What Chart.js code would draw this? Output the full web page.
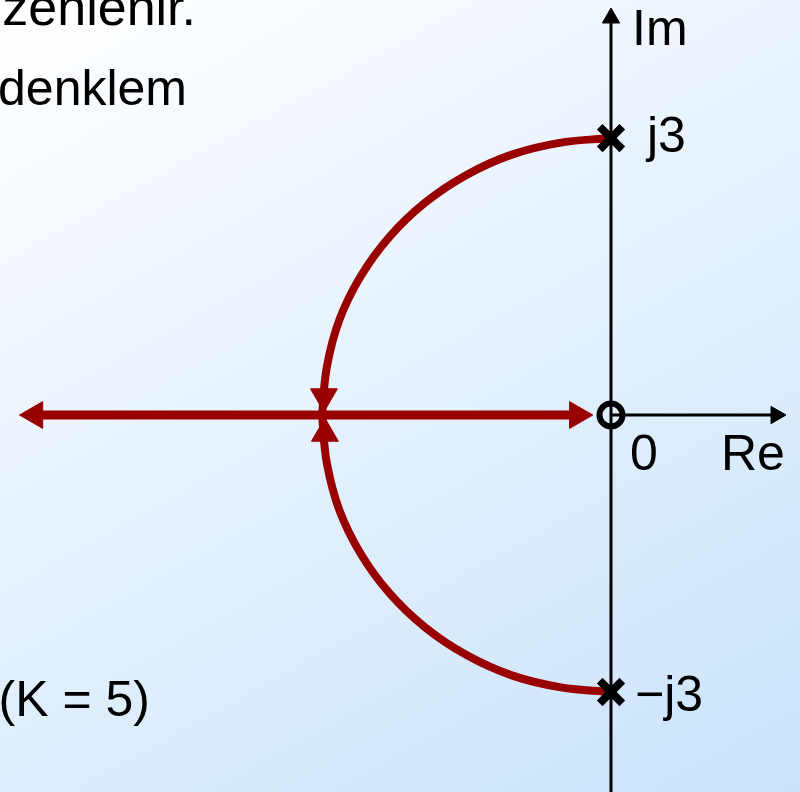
<!DOCTYPE html>
<html><head><meta charset="utf-8">
<script src="https://cdn.jsdelivr.net/npm/chart.js@4/dist/chart.umd.min.js"></script>
<style>
html,body{margin:0;padding:0;overflow:hidden;}
body{width:800px;height:792px;background:linear-gradient(151deg,#ffffff 0%,#cae3fb 100%);}
canvas{display:block;}
</style></head><body>
<canvas id="c" width="800" height="792"></canvas>
<script>
// Root locus: poles at ±j3, zero at 0, breakaway at -3
const poles = [{x: 0, y: 3}, {x: 0, y: -3}];
const zeros = [{x: 0, y: 0}];
const upperArc = [{x: 0, y: 3}, {x: -0.52, y: 2.95}, {x: -1.03, y: 2.82}, {x: -1.5, y: 2.6}, {x: -1.93, y: 2.3},
  {x: -2.3, y: 1.93}, {x: -2.6, y: 1.5}, {x: -2.82, y: 1.03}, {x: -2.95, y: 0.52}, {x: -3, y: 0}];
const lowerArc = [{x: 0, y: -3}, {x: -0.52, y: -2.95}, {x: -1.03, y: -2.82}, {x: -1.5, y: -2.6}, {x: -1.93, y: -2.3},
  {x: -2.3, y: -1.93}, {x: -2.6, y: -1.5}, {x: -2.82, y: -1.03}, {x: -2.95, y: -0.52}, {x: -3, y: 0}];
const realAxisLocus = [{x: -6.03, y: 0}, {x: -0.32, y: 0}];
const locusArrows = [{x: -5.98, y: 0}, {x: -0.35, y: 0}, {x: -2.98, y: 0.2}, {x: -2.97, y: -0.2}];
const locusArrowDir = [270, 90, 180, 0];
const imAxis = [{x: 0, y: -4.2}, {x: 0, y: 4.25}];
const reAxis = [{x: 0, y: 0}, {x: 1.68, y: 0}];
const axisArrows = [{x: 0, y: 4.3}, {x: 1.713, y: 0}];
const axisArrowDir = [0, 90];
const xRange = [-6.343, 1.962];
const yRange = [-4.083, 4.495];

const RED = '#990000';
const FONT = '"Liberation Sans", Arial, sans-serif';

const labelPlugin = {
  id: 'labels',
  afterDatasetsDraw(chart) {
    const ctx = chart.ctx;
    const xs = chart.scales.x, ys = chart.scales.y;
    const x0 = xs.getPixelForValue(0), y0 = ys.getPixelForValue(0);
    const yp3 = ys.getPixelForValue(3), yn3 = ys.getPixelForValue(-3);
    ctx.save();
    ctx.fillStyle = '#000';
    ctx.font = '50px ' + FONT;
    ctx.textBaseline = 'alphabetic';
    ctx.textAlign = 'left';
    ctx.fillText('Im', x0 + 21, 45);
    ctx.fillText('j3', x0 + 36, yp3 + 14);
    ctx.fillText('\u2212j3', x0 + 24, yn3 + 19);
    ctx.fillText('0', x0 + 19, y0 + 55);
    ctx.fillText('Re', x0 + 110, y0 + 55);
    ctx.textAlign = 'right';
    ctx.fillText('denklem', 187, 105);
    ctx.fillText('(K = 5)', 150, 716);
    ctx.font = '52px ' + FONT;
    ctx.fillText('zenlenir.', 196, 25);
    ctx.restore();
  }
};

new Chart(document.getElementById('c'), {
  type: 'scatter',
  data: {
    datasets: [
      {data: upperArc, showLine: true, borderColor: RED, borderWidth: 8, pointRadius: 0, tension: 0.4, order: 5},
      {data: lowerArc, showLine: true, borderColor: RED, borderWidth: 8, pointRadius: 0, tension: 0.4, order: 5},
      {data: realAxisLocus, showLine: true, borderColor: RED, borderWidth: 9, pointRadius: 0, order: 5},
      {data: locusArrows, showLine: false, pointStyle: 'triangle', pointRadius: 15.5, pointRotation: locusArrowDir,
       backgroundColor: RED, borderColor: RED, borderWidth: 1, order: 4},
      {data: imAxis, showLine: true, borderColor: '#000', borderWidth: 3, pointRadius: 0, order: 3},
      {data: reAxis, showLine: true, borderColor: '#000', borderWidth: 3, pointRadius: 0, order: 3},
      {data: axisArrows, showLine: false, pointStyle: 'triangle', pointRadius: 10, pointRotation: axisArrowDir,
       backgroundColor: '#000', borderColor: '#000', borderWidth: 1, order: 2},
      {data: poles, showLine: false, pointStyle: 'crossRot', pointRadius: 16, borderColor: '#000', borderWidth: 8, order: 1},
      {data: zeros, showLine: false, pointStyle: 'circle', pointRadius: 11.5, borderColor: '#000', borderWidth: 6,
       backgroundColor: 'rgba(0,0,0,0)', order: 1}
    ]
  },
  options: {
    responsive: false,
    animation: false,
    layout: {padding: 0, autoPadding: false},
    plugins: {legend: {display: false}, tooltip: {enabled: false}},
    scales: {
      x: {type: 'linear', display: false, min: xRange[0], max: xRange[1]},
      y: {type: 'linear', display: false, min: yRange[0], max: yRange[1]}
    },
    elements: {line: {borderCapStyle: 'butt'}}
  },
  plugins: [labelPlugin]
});
</script>
</body></html>
